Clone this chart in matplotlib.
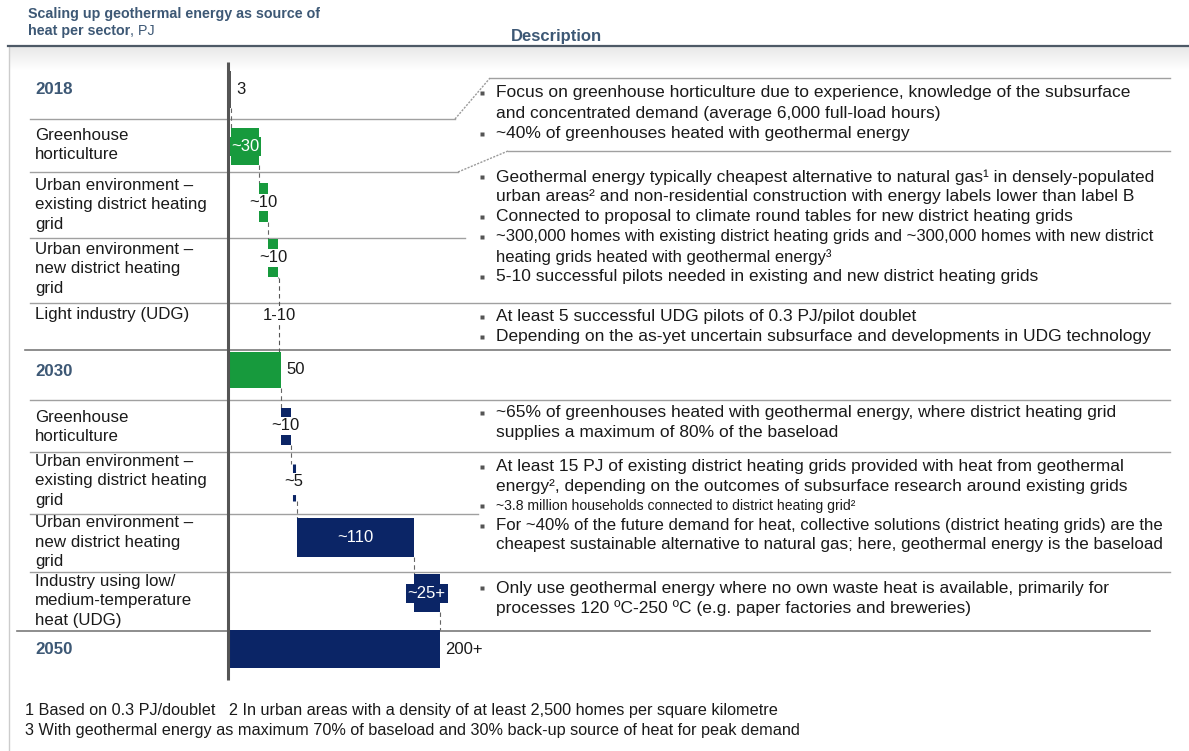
import numpy as np
import matplotlib
matplotlib.use('Agg')
import matplotlib.pyplot as plt
from matplotlib.colors import to_rgb

W, H = 1189, 751
FONT = 'Liberation Sans'

GREEN = '#179a3d'
NAVY = '#0b2566'
SLATE = '#3d5875'
TXT = '#1a1a1a'
LINE = '#a0a0a0'
AXIS = '#555555'

# ---- waterfall data (PJ) ----
row_labels = [
    '2018',
    'Greenhouse\nhorticulture',
    'Urban environment \u2013\nexisting district heating\ngrid',
    'Urban environment \u2013\nnew district heating\ngrid',
    'Light industry (UDG)',
    '2030',
    'Greenhouse\nhorticulture',
    'Urban environment \u2013\nexisting district heating\ngrid',
    'Urban environment \u2013\nnew district heating\ngrid',
    'Industry using low/\nmedium-temperature\nheat (UDG)',
    '2050',
]
is_total = [True, False, False, False, False, True, False, False, False, False, True]
values = [3, 26, 9, 9, 3, 50, 9, 6, 110, 25, 200]
value_labels = ['3', '~30', '~10', '~10', '1-10', '50', '~10', '~5', '~110', '~25+', '200+']
bar_colors = [AXIS, GREEN, GREEN, GREEN, '#555555', GREEN,
              NAVY, NAVY, NAVY, NAVY, NAVY]
bar_style = ['bar', 'bar', 'bar', 'bar', 'dash_thin', 'bar',
             'bar', 'dash_thick', 'bar', 'bar', 'bar']

# ---- description data ----
desc_blocks = [
    [['Focus on greenhouse horticulture due to experience, knowledge of the subsurface',
      'and concentrated demand (average 6,000 full-load hours)'],
     ['~40% of greenhouses heated with geothermal energy']],
    [['Geothermal energy typically cheapest alternative to natural gas\u00b9 in densely-populated',
      'urban areas\u00b2 and non-residential construction with energy labels lower than label B'],
     ['Connected to proposal to climate round tables for new district heating grids'],
     ['~300,000 homes with existing district heating grids and ~300,000 homes with new district',
      'heating grids heated with geothermal energy\u00b3'],
     ['5-10 successful pilots needed in existing and new district heating grids']],
    [['At least 5 successful UDG pilots of 0.3 PJ/pilot doublet'],
     ['Depending on the as-yet uncertain subsurface and developments in UDG technology']],
    [['~65% of greenhouses heated with geothermal energy, where district heating grid',
      'supplies a maximum of 80% of the baseload']],
    [['At least 15 PJ of existing district heating grids provided with heat from geothermal',
      'energy\u00b2, depending on the outcomes of subsurface research around existing grids'],
     ['~3.8 million households connected to district heating grid\u00b2'],
     ['For ~40% of the future demand for heat, collective solutions (district heating grids) are the',
      'cheapest sustainable alternative to natural gas; here, geothermal energy is the baseload']],
    [['Only use geothermal energy where no own waste heat is available, primarily for',
      'processes 120 \u00baC-250 \u00baC (e.g. paper factories and breweries)']],
]
item_size = {(1, 2): 12.0, (4, 1): 10.1}

footnotes = [
    '1 Based on 0.3 PJ/doublet   2 In urban areas with a density of at least 2,500 homes per square kilometre',
    '3 With geothermal energy as maximum 70% of baseload and 30% back-up source of heat for peak demand',
]

# ---- layout (pixels) ----
label_y = [89, 145, 205, 269, 315, 371, 427, 481, 542, 601, 649]
bar_y = [89, 146.5, 202.5, 258, 315, 370, 426, 482, 537.5, 593, 649]
bar_h = [37, 37, 39, 38, 74, 36, 37, 37, 39, 38, 38]
block_top = [93, 177, 317, 413, 467, 588]
block_step = [20.3, 20, 20, 20, 19.5, 20]

fig = plt.figure(figsize=(W / 100, H / 100), dpi=100)
bg = fig.add_axes([0, 0, 1, 1])
bg.set_xlim(0, W)
bg.set_ylim(H, 0)
bg.axis('off')
renderer = fig.canvas.get_renderer()


def fit_text(t, right):
    # shrink a line that would run past the right margin
    bb = t.get_window_extent(renderer)
    if bb.x1 > right:
        t.set_fontsize(t.get_fontsize() * (right - bb.x0) / (bb.x1 - bb.x0))


# faint grey band under the header line
c0, c1 = np.array(to_rgb('#e8e8e8')), np.array(to_rgb('#ffffff'))
tt = np.linspace(0, 1, 40)[:, None, None]
grad = c0 * (1 - tt) + c1 * tt
bg.imshow(grad, extent=(9, W, 70, 47), aspect='auto', zorder=0)

# header
bg.text(28, 14, 'Scaling up geothermal energy as source of', family=FONT,
        fontsize=10.3, fontweight='bold', color=SLATE, va='center')
t2 = bg.text(28, 31, 'heat per sector', family=FONT, fontsize=10.3,
             fontweight='bold', color=SLATE, va='center')
bg.annotate(', PJ', xy=(1, 0), xycoords=t2, ha='left', va='bottom',
            family=FONT, fontsize=10.3, color=SLATE)
bg.text(511, 36, 'Description', family=FONT, fontsize=12,
        fontweight='bold', color=SLATE, va='center')
bg.plot([8, W], [46, 46], color='#4d5966', lw=1.6, zorder=3)
bg.plot([8.5, 8.5], [46, H], color='#cccccc', lw=1)

# separators
seg = [
    ([30, 455], [119, 119]), ([490, 1170], [78, 78]),
    ([30, 458], [172, 172]), ([508, 1170], [151, 151]),
    ([30, 465], [238, 238]),
    ([30, 1170], [303, 303]),
    ([30, 1170], [400, 400]),
    ([30, 1170], [452, 452]),
    ([30, 478], [514, 514]),
    ([30, 1170], [572, 572]),
]
for xs, ys in seg:
    bg.plot(xs, ys, color=LINE, lw=1, zorder=1)
for xs, ys in [([455, 490], [119, 78]), ([458, 508], [172, 151])]:
    bg.plot(xs, ys, color='#9a9a9a', lw=1, ls=(0, (1.5, 1)), zorder=1)
bg.plot([25, 1170], [350, 350], color='#7a7a7a', lw=1.2, zorder=1)
bg.plot([17, 1150], [631, 631], color='#7a7a7a', lw=1.2, zorder=1)

# row labels
for i, lab in enumerate(row_labels):
    if is_total[i]:
        bg.text(35, label_y[i], lab, family=FONT, fontsize=12.2, fontweight='bold',
                color=SLATE, va='center', ha='left')
    else:
        bg.text(35, label_y[i], lab, family=FONT, fontsize=12.2, color=TXT,
                va='center', ha='left', linespacing=1.36)

# description bullets
for b, block in enumerate(desc_blocks):
    k = 0
    for j, item in enumerate(block):
        fs = item_size.get((b, j), 12.5)
        for m, line in enumerate(item):
            y = block_top[b] + k * block_step[b]
            if m == 0:
                bg.plot(482, y, marker='s', ms=3.2, color='#555555', mec='none')
            t = bg.text(496, y, line, family=FONT, fontsize=fs, color=TXT,
                        va='center', ha='left')
            fit_text(t, 1164)
            k += 1

for i, fn in enumerate(footnotes):
    bg.text(25, 711 + 20 * i, fn, family=FONT, fontsize=11.7, color=TXT,
            va='center', ha='left')

# ---- waterfall ----
PX_PER_PJ = 1.06
X0, X1 = 228, 480
wf = fig.add_axes([X0 / W, 0, (X1 - X0) / W, 1])
wf.set_xlim(0, (X1 - X0) / PX_PER_PJ)
wf.set_ylim(H, 0)
wf.axis('off')
wf.patch.set_visible(False)

starts, ends = [], []
cum = 0
for v, tot in zip(values, is_total):
    s = 0 if tot else cum
    e = v if tot else cum + v
    starts.append(s)
    ends.append(e)
    cum = e

n = len(values)
for i in range(n - 1):
    x = ends[i]
    wf.plot([x, x], [bar_y[i] + bar_h[i] / 2, bar_y[i + 1] - bar_h[i + 1] / 2],
            color='#666666', lw=0.8, ls=(0, (4, 3)), zorder=1)

for i in range(n):
    s, e = starts[i], ends[i]
    y, h = bar_y[i], bar_h[i]
    mid = (s + e) / 2
    if bar_style[i] == 'bar':
        wf.barh(y, e - s, left=s, height=h, color=bar_colors[i], lw=0, zorder=2)
    elif bar_style[i] == 'dash_thin':
        wf.plot([mid, mid], [y - h / 2, y + h / 2], color=bar_colors[i], lw=0.8,
                ls=(0, (4, 3)), zorder=2)
    else:
        wf.plot([mid, mid], [y - h / 2, y + h / 2], color=bar_colors[i], lw=2.2,
                ls=(0, (3, 2)), zorder=2)

    lab = value_labels[i]
    if is_total[i]:
        wf.annotate(lab, (e, y), xytext=(4, 0), textcoords='offset points',
                    ha='left', va='center', family=FONT, fontsize=12, color=TXT,
                    zorder=4)
    elif values[i] >= 20:
        wf.text(mid, y, lab, ha='center', va='center', family=FONT, fontsize=12,
                color='white', zorder=4,
                bbox=dict(boxstyle='square,pad=0.12', fc=bar_colors[i], ec='none'))
    else:
        wf.text(mid, y, lab, ha='center', va='center', family=FONT, fontsize=12,
                color=TXT, zorder=4,
                bbox=dict(boxstyle='square,pad=0.08', fc='white', ec='none'))

# axis baseline
wf.plot([0, 0], [62, 680], color=AXIS, lw=2.2, zorder=5, clip_on=False,
        solid_capstyle='butt')

fig.savefig('out.png', dpi=100)
